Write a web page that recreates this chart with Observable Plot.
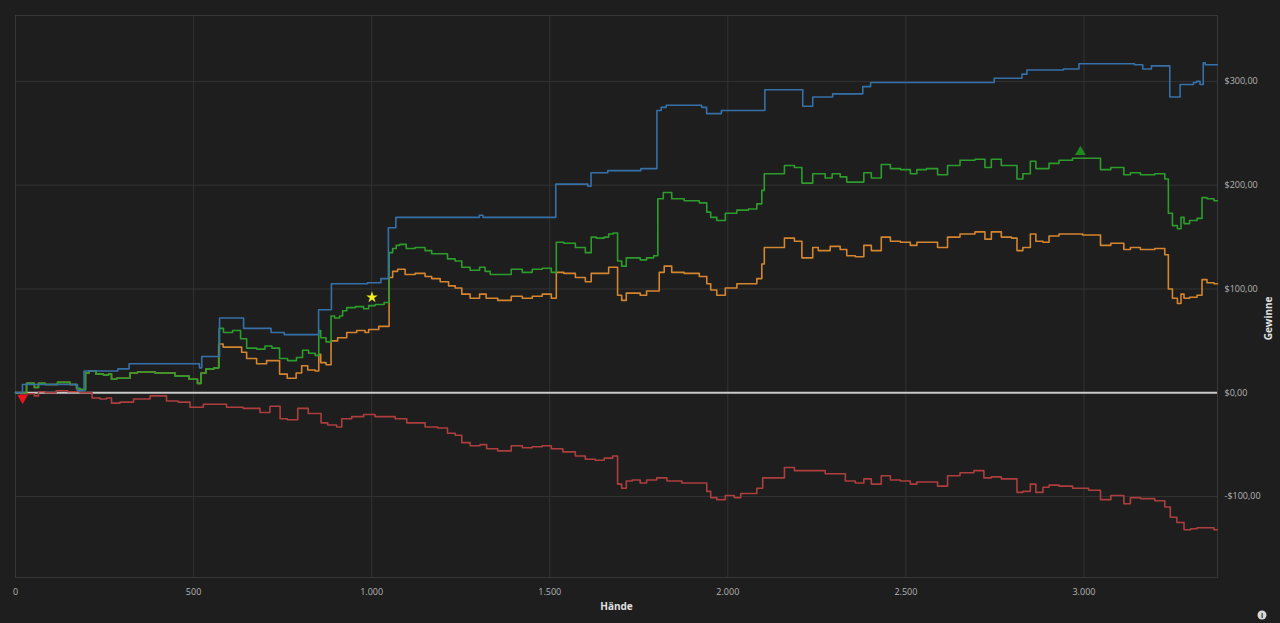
<!DOCTYPE html>
<html>
<head>
<meta charset="utf-8">
<script src="https://cdn.jsdelivr.net/npm/d3@7"></script>
<script src="https://cdn.jsdelivr.net/npm/@observablehq/plot@0.6"></script>
<style>
  html, body { margin: 0; padding: 0; background: #1e1e1e; }
  #chart { position: relative; width: 1280px; height: 623px; }
</style>
</head>
<body>
<div id="chart"></div>
<script>
const xTicks = [0, 500, 1000, 1500, 2000, 2500, 3000];
const xTickLabels = ["0", "500", "1.000", "1.500", "2.000", "2.500", "3.000"];
const yTicks = [-100, 0, 100, 200, 300];
const yTickLabels = ["-$100,00", "$0,00", "$100,00", "$200,00", "$300,00"];

// [hand, winnings]
const blueSeries = [[0,0],[12,0],[27,8],[173,8],[175,2],[190,2],[195,21],[285,21],[290,23],[316,23],[322,28],[515,28],[518,24],[522,24],[524,35],[572,35],[574,72],[636,72],[645,62],[715,62],[720,58],[749,58],[760,56],[850,56],[852,80],[886,80],[888,105],[987,105],[990,106],[1024,106],[1028,110],[1046,110],[1048,159],[1066,159],[1070,169],[1300,169],[1305,171],[1320,169],[1516,169],[1518,201],[1605,201],[1609,199],[1615,199],[1617,212],[1661,212],[1665,214],[1754,214],[1758,216],[1800,216],[1802,272],[1824,275],[1830,277],[1923,277],[1930,275],[1951,269],[1979,269],[1985,272],[2103,272],[2105,292],[2209,292],[2212,276],[2237,276],[2240,285],[2293,285],[2296,288],[2378,288],[2380,295],[2400,295],[2402,299],[2746,299],[2750,303],[2822,303],[2830,307],[2850,311],[2940,311],[2945,312],[2984,312],[2988,317],[3139,317],[3145,316],[3160,316],[3170,312],[3187,312],[3192,315],[3240,315],[3242,285],[3268,285],[3272,297],[3305,297],[3310,299],[3322,300],[3330,297],[3334,297],[3336,318],[3345,316],[3375,316]];

const greenSeries = [[0,0],[27,0],[35,9],[46,9],[60,5],[69,9],[97,8],[139,10],[167,8],[176,4],[187,3],[195,3],[198,19],[215,21],[237,18],[257,17],[265,18],[274,13],[294,14],[316,14],[327,19],[358,20],[426,19],[471,16],[504,13],[518,9],[524,19],[546,23],[569,24],[574,62],[594,58],[625,60],[639,52],[659,43],[695,42],[706,45],[734,43],[749,33],[779,31],[799,34],[813,41],[833,38],[850,36],[853,60],[861,53],[883,49],[889,74],[903,72],[917,74],[920,79],[940,82],[968,83],[987,81],[996,84],[1024,85],[1046,87],[1052,135],[1066,139],[1072,142],[1086,143],[1108,139],[1136,140],[1164,137],[1173,134],[1206,134],[1220,129],[1249,127],[1257,121],[1296,118],[1310,121],[1327,117],[1339,114],[1375,114],[1409,119],[1437,116],[1465,119],[1493,120],[1516,116],[1521,145],[1558,144],[1586,140],[1614,135],[1619,150],[1642,149],[1664,150],[1667,153],[1689,154],[1692,127],[1712,122],[1718,130],[1746,130],[1762,128],[1782,130],[1802,132],[1805,187],[1833,193],[1852,187],[1903,185],[1937,183],[1945,174],[1959,169],[1979,166],[2007,173],[2044,176],[2072,177],[2091,182],[2100,195],[2105,211],[2148,211],[2170,219],[2204,217],[2212,202],[2237,202],[2240,211],[2268,211],[2279,207],[2307,211],[2324,208],[2344,203],[2372,203],[2392,212],[2414,207],[2448,220],[2465,216],[2504,215],[2521,211],[2541,215],[2575,216],[2603,210],[2631,219],[2673,224],[2715,225],[2729,217],[2751,225],[2785,219],[2808,219],[2816,206],[2841,211],[2858,223],[2872,216],[2898,216],[2906,221],[2954,224],[2982,226],[3010,226],[3044,226],[3049,215],[3102,217],[3122,210],[3139,212],[3178,210],[3220,211],[3234,206],[3240,173],[3257,161],[3268,158],[3277,169],[3285,163],[3308,166],[3327,168],[3336,188],[3355,187],[3375,185]];

const orangeSeries = [[0,0],[27,0],[35,9],[46,9],[60,5],[69,9],[97,8],[139,10],[167,8],[176,4],[187,3],[195,3],[198,19],[215,21],[237,18],[257,17],[265,18],[274,13],[294,14],[316,14],[327,19],[358,20],[426,19],[471,16],[504,13],[518,9],[524,19],[546,23],[569,24],[572,47],[594,44],[631,44],[639,39],[659,33],[695,28],[715,31],[734,31],[749,18],[777,14],[799,19],[808,26],[833,22],[850,21],[853,37],[861,29],[883,27],[889,50],[920,53],[940,58],[976,60],[987,58],[996,61],[1044,64],[1046,64],[1052,111],[1066,117],[1080,119],[1108,114],[1136,115],[1164,112],[1173,110],[1212,107],[1220,103],[1249,101],[1257,95],[1296,91],[1310,95],[1333,91],[1375,89],[1409,93],[1437,91],[1465,93],[1493,95],[1516,91],[1521,116],[1558,115],[1586,111],[1614,107],[1619,115],[1664,115],[1667,121],[1689,121],[1692,94],[1712,89],[1718,96],[1746,96],[1762,94],[1782,98],[1805,98],[1810,116],[1833,122],[1852,116],[1903,115],[1937,112],[1945,105],[1959,99],[1979,94],[2007,101],[2044,105],[2072,105],[2091,110],[2100,124],[2105,140],[2148,140],[2170,149],[2204,146],[2212,130],[2237,130],[2240,140],[2268,137],[2307,141],[2324,138],[2344,132],[2372,131],[2392,142],[2414,137],[2448,150],[2465,146],[2504,145],[2521,142],[2541,145],[2575,145],[2603,140],[2631,150],[2673,153],[2715,155],[2729,148],[2751,155],[2785,150],[2808,149],[2816,137],[2841,140],[2858,153],[2872,146],[2898,145],[2906,151],[2954,153],[2982,153],[3010,152],[3044,152],[3049,142],[3102,144],[3122,138],[3139,140],[3178,138],[3220,139],[3234,133],[3240,100],[3257,91],[3268,86],[3277,95],[3285,91],[3308,92],[3327,94],[3336,109],[3355,106],[3375,105]];

const redSeries = [[0,0],[27,-1],[46,-1],[60,-3],[69,1],[97,0],[131,2],[162,1],[201,0],[229,-5],[246,-6],[265,-5],[274,-10],[313,-9],[350,-6],[406,-3],[442,-8],[471,-9],[509,-14],[546,-11],[574,-11],[611,-14],[667,-15],[706,-19],[723,-13],[737,-13],[749,-25],[777,-26],[808,-15],[836,-20],[855,-20],[861,-29],[892,-31],[912,-33],[920,-25],[968,-23],[987,-21],[1032,-23],[1052,-23],[1080,-25],[1117,-29],[1136,-29],[1164,-33],[1206,-34],[1220,-39],[1249,-41],[1257,-48],[1296,-51],[1313,-50],[1333,-54],[1375,-56],[1409,-51],[1437,-53],[1465,-52],[1493,-51],[1516,-54],[1558,-57],[1586,-61],[1614,-64],[1642,-65],[1664,-63],[1689,-61],[1692,-88],[1712,-92],[1718,-85],[1746,-84],[1762,-87],[1782,-84],[1819,-82],[1839,-85],[1903,-87],[1937,-87],[1945,-95],[1959,-101],[1979,-103],[2007,-99],[2029,-101],[2044,-97],[2072,-97],[2091,-92],[2105,-82],[2148,-82],[2170,-72],[2204,-75],[2268,-75],[2279,-78],[2316,-78],[2344,-85],[2372,-87],[2392,-83],[2414,-88],[2448,-80],[2465,-84],[2504,-85],[2521,-88],[2541,-86],[2575,-86],[2603,-90],[2631,-80],[2673,-77],[2709,-75],[2729,-82],[2751,-81],[2785,-83],[2808,-83],[2816,-96],[2841,-95],[2858,-88],[2872,-96],[2898,-91],[2906,-89],[2954,-90],[2982,-92],[3044,-94],[3049,-103],[3102,-99],[3122,-107],[3139,-101],[3178,-102],[3220,-104],[3234,-110],[3251,-120],[3271,-125],[3291,-132],[3308,-131],[3327,-130],[3355,-130],[3375,-132]];

const markers = [
  {hand: 20, value: -5, symbol: "triangle", color: "#e8141c", rotate: 180, r: 4},
  {hand: 1001, value: 92, symbol: "star", color: "#f4ee1c", rotate: 0, r: 3.6},
  {hand: 2990, value: 232, symbol: "triangle", color: "#1e8a1e", rotate: 0, r: 4}
];

const seriesColors = {blue: "#3670a8", green: "#2c9c2c", orange: "#d4852f", red: "#ad3e3e"};

const toRows = (arr) => arr.map(([hand, value]) => ({hand, value}));
const lineOpts = (color) => ({x: "hand", y: "value", stroke: color, strokeWidth: 1.6, curve: "step"});

const plot = Plot.plot({
  width: 1280,
  height: 623,
  marginLeft: 15,
  marginRight: 63,
  marginTop: 15,
  marginBottom: 46,
  style: {background: "#1e1e1e", color: "#bdbdbd", fontFamily: "'Open Sans', 'Noto Sans', sans-serif", fontSize: "9px"},
  x: {domain: [0, 3375]},
  y: {domain: [-178, 363.5]},
  r: {type: "identity"},
  marks: [
    Plot.gridX(xTicks, {stroke: "#333333", strokeOpacity: 1}),
    Plot.gridY(yTicks, {stroke: "#333333", strokeOpacity: 1}),
    Plot.frame({stroke: "#383838"}),
    Plot.ruleY([0], {stroke: "#c9c9c9", strokeWidth: 2}),
    Plot.line(toRows(redSeries), lineOpts(seriesColors.red)),
    Plot.line(toRows(orangeSeries), lineOpts(seriesColors.orange)),
    Plot.line(toRows(greenSeries), lineOpts(seriesColors.green)),
    Plot.line(toRows(blueSeries), lineOpts(seriesColors.blue)),
    Plot.dot(markers, {x: "hand", y: "value", symbol: "symbol", fill: "color", r: "r", rotate: "rotate", stroke: null}),
    Plot.axisX(xTicks, {anchor: "bottom", tickSize: 0, tickPadding: 11, tickFormat: (d, i) => xTickLabels[i], label: null, fill: "#b5b5b5"}),
    Plot.axisY(yTicks, {anchor: "right", tickSize: 0, tickPadding: 7, tickFormat: (d, i) => yTickLabels[i], label: null, fill: "#b5b5b5"}),
    Plot.text(["Hände"], {frameAnchor: "bottom", dy: 32, fill: "#e0e0e0", fontWeight: "bold", fontSize: 10}),
    Plot.text(["Gewinne"], {frameAnchor: "right", dx: 51, rotate: -90, fill: "#e0e0e0", fontWeight: "bold", fontSize: 10})
  ]
});
plot.style.display = "block";
document.getElementById("chart").appendChild(plot);

// info icon
const svg = d3.select(plot);
const g = svg.append("g").attr("transform", "translate(1262,615)");
g.append("circle").attr("r", 4.5).attr("fill", "#d8d8d8");
g.append("text").attr("text-anchor", "middle").attr("dy", "3").attr("font-size", "7px").attr("font-weight", "bold").attr("fill", "#1e1e1e").text("i");
</script>
</body>
</html>
